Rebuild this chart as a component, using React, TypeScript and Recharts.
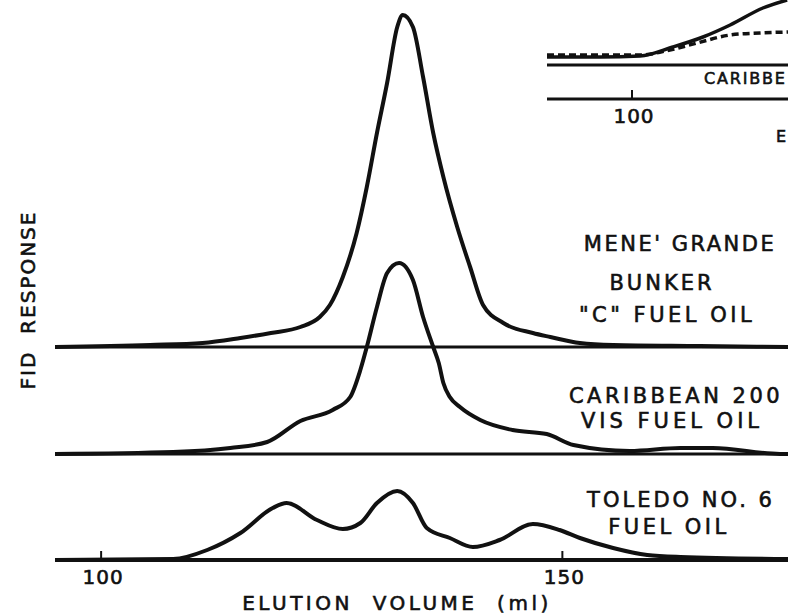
import React from 'react';
import { ComposedChart, Line, XAxis, YAxis, ReferenceLine } from 'recharts';

// elution volume (ml) / FID response
const meneVolume = [95, 105.3, 111, 115.1, 118.4, 121.6, 123.7, 124.8, 126.2, 127.7, 128.8, 129.9, 131, 132.1, 132.7, 133.8, 134.9, 136, 137.1, 138.6, 140, 141.4, 143.6, 146.8, 148.7, 151.9, 155.5, 164.9, 174.5];
const meneResponse = [0, 2, 4, 9, 14, 20, 30, 42, 70, 114, 160, 214, 264, 320, 332, 320, 270, 214, 170, 120, 80, 42, 24, 14, 10, 4, 2, 1, 0];

const caribVolume = [95, 107.8, 114, 118, 121.6, 125.1, 127, 128.1, 128.8, 129.9, 131, 132.3, 133.8, 134.9, 136, 136.6, 137.1, 137.8, 138.9, 141.1, 144.6, 148.3, 151.2, 157.3, 162.8, 166.3, 173.6, 174.5];
const caribResponse = [0, 2, 6, 12, 33, 44, 57, 84, 107, 147, 181, 191, 174, 137, 107, 91, 71, 57, 47, 34, 24, 20, 9, 3, 6, 6, 0, 0];

const toledoVolume = [95, 107.8, 111.5, 115.1, 118.6, 120.1, 123.4, 126.2, 128.1, 129.9, 132.1, 133.8, 135.3, 137.8, 140.3, 143.2, 146.8, 149.7, 151.9, 155.5, 159.2, 162.8, 174.5];
const toledoResponse = [0, 1, 10, 27, 52, 57, 40, 31, 37, 57, 69, 57, 32, 22, 13, 20, 36, 30, 22, 12, 5, 3, 1];

// inset (upper right corner)
const insetSolidVolume = [80, 92.5, 101.9, 109.6, 116.7, 123.1, 130.8, 136.5];
const insetSolidResponse = [42, 42, 43, 52, 62, 74, 91, 99];
const insetDashVolume = [80, 101.9, 108.9, 115.3, 123.1, 130.1, 136.7];
const insetDashResponse = [44, 44, 49, 56, 64, 66, 67];

const volumeTicks = [100, 150];
const insetTicks = [100];

// vertical offset of each trace's baseline
const MENE_BASE = 213;
const CARIB_BASE = 106;
const TOLEDO_BASE = 0;
const INSET_BASE = 34;

const INK = '#111';
const FONT = '"DejaVu Sans", sans-serif';

const toSeries = (volume: number[], response: number[], base: number) =>
  volume.map((v, i) => ({ volume: v, level: base + response[i] }));

const UpTick = (props: any) => {
  const { x, y, payload } = props;
  return (
    <g>
      <line x1={x} x2={x} y1={y} y2={y - 9} stroke={INK} strokeWidth={2} />
      <text
        x={x + 2}
        y={y + 24}
        textAnchor="middle"
        fontFamily={FONT}
        fontSize={20}
        letterSpacing={1}
        fill={INK}
        stroke={INK}
        strokeWidth={0.6}
      >
        {payload.value}
      </text>
    </g>
  );
};

type LabelProps = { text: string; cx: number; cy: number; size?: number; spacing?: number; left?: boolean };

const Label = ({ text, cx, cy, size = 21, spacing = 3.5, left }: LabelProps) => (
  <div
    style={{
      position: 'absolute',
      left: left ? cx : cx - 160,
      width: left ? undefined : 320,
      top: cy - size * 0.48,
      textAlign: left ? 'left' : 'center',
      fontFamily: FONT,
      fontSize: size,
      lineHeight: 1,
      letterSpacing: spacing,
      whiteSpace: 'pre',
      color: INK,
      WebkitTextStroke: '0.6px ' + INK,
    }}
  >
    {text}
  </div>
);

export default function App() {
  return (
    <div style={{ position: 'absolute', left: 0, top: 0, width: 788, height: 615, overflow: 'hidden', background: '#fff' }}>
      <ComposedChart width={796} height={615} margin={{ top: 0, right: 3, bottom: 25, left: 55 }}>
        <XAxis
          type="number"
          dataKey="volume"
          domain={[95, 175]}
          ticks={volumeTicks}
          height={30}
          tickSize={0}
          tickMargin={0}
          tickLine={false}
          axisLine={{ stroke: INK, strokeWidth: 4 }}
          tick={<UpTick />}
        />
        <YAxis type="number" domain={[0, 560]} hide width={0} />
        <ReferenceLine y={MENE_BASE} stroke={INK} strokeWidth={3} />
        <ReferenceLine y={CARIB_BASE} stroke={INK} strokeWidth={3} />
        <Line data={toSeries(meneVolume, meneResponse, MENE_BASE)} dataKey="level" type="monotone" stroke={INK} strokeWidth={4} dot={false} isAnimationActive={false} />
        <Line data={toSeries(caribVolume, caribResponse, CARIB_BASE)} dataKey="level" type="monotone" stroke={INK} strokeWidth={4} dot={false} isAnimationActive={false} />
        <Line data={toSeries(toledoVolume, toledoResponse, TOLEDO_BASE)} dataKey="level" type="monotone" stroke={INK} strokeWidth={4} dot={false} isAnimationActive={false} />
      </ComposedChart>

      <div style={{ position: 'absolute', left: 530, top: 0, width: 258, height: 150, overflow: 'hidden' }}>
        <ComposedChart width={280} height={150} margin={{ top: 0, right: 8, bottom: 21, left: 17 }}>
          <XAxis
            type="number"
            dataKey="volume"
            domain={[80, 140]}
            ticks={insetTicks}
            height={30}
            tickSize={0}
            tickMargin={0}
            tickLine={false}
            axisLine={{ stroke: INK, strokeWidth: 3 }}
            tick={<UpTick />}
          />
          <YAxis type="number" domain={[0, 99]} hide width={0} />
          <ReferenceLine y={INSET_BASE} stroke={INK} strokeWidth={3} />
          <Line data={toSeries(insetDashVolume, insetDashResponse, 0)} dataKey="level" type="monotone" stroke={INK} strokeWidth={3.5} strokeDasharray="7 4" dot={false} isAnimationActive={false} />
          <Line data={toSeries(insetSolidVolume, insetSolidResponse, 0)} dataKey="level" type="monotone" stroke={INK} strokeWidth={3.5} dot={false} isAnimationActive={false} />
        </ComposedChart>
      </div>

      <Label text="CARIBBE" cx={704} cy={79} size={16} spacing={1.8} left />
      <Label text="E" cx={776} cy={137} size={16} spacing={0} left />

      <Label text="MENE' GRANDE" cx={680} cy={244} spacing={2.5} />
      <Label text="BUNKER" cx={662} cy={283} spacing={3} />
      <Label text={'"C" FUEL OIL'} cx={667} cy={315} spacing={3.5} />
      <Label text="CARIBBEAN 200" cx={676} cy={396} spacing={3.5} />
      <Label text="VIS FUEL OIL" cx={672} cy={421} spacing={4} />
      <Label text="TOLEDO NO. 6" cx={681} cy={500} spacing={3} />
      <Label text="FUEL OIL" cx={669} cy={527} spacing={3.5} />

      <Label text="ELUTION  VOLUME  (ml)" cx={397} cy={603} size={20} spacing={3.5} />
      <div
        style={{
          position: 'absolute',
          left: 28 - 110,
          top: 300 - 10,
          width: 220,
          height: 20,
          lineHeight: '20px',
          textAlign: 'center',
          transform: 'rotate(-90deg)',
          fontFamily: FONT,
          fontSize: 20,
          letterSpacing: 2,
          whiteSpace: 'pre',
          color: INK,
          WebkitTextStroke: '0.6px ' + INK,
        }}
      >
        {'FID  RESPONSE'}
      </div>
    </div>
  );
}
